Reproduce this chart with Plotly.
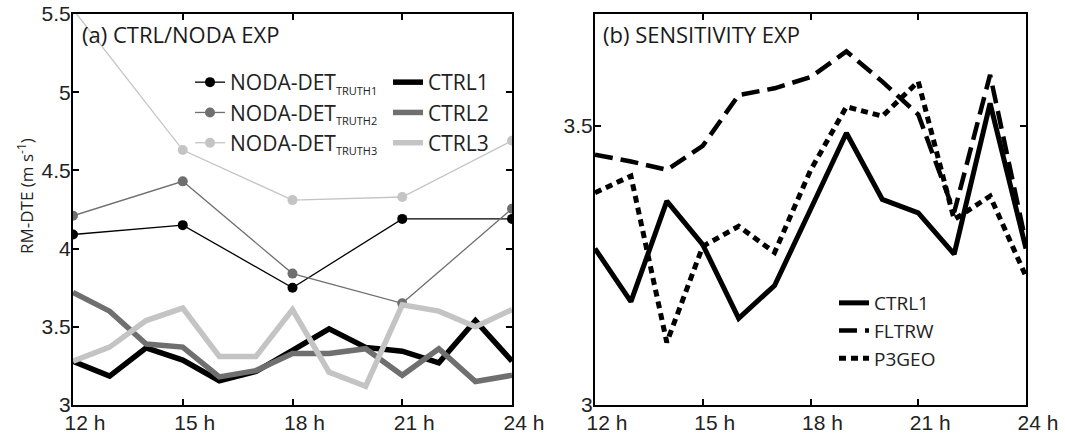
import plotly.graph_objects as go

hours = [12, 13, 14, 15, 16, 17, 18, 19, 20, 21, 22, 23, 24]
hours3 = [12, 15, 18, 21, 24]

noda_truth1 = [4.09, 4.15, 3.75, 4.19, 4.19]
noda_truth2 = [4.21, 4.43, 3.84, 3.65, 4.255]
noda_truth3 = [5.53, 4.63, 4.31, 4.33, 4.69]

ctrl1 = [3.28, 3.185, 3.365, 3.287, 3.155, 3.214, 3.35, 3.487, 3.368, 3.344, 3.27, 3.54, 3.28]
ctrl2 = [3.72, 3.60, 3.39, 3.37, 3.18, 3.22, 3.33, 3.33, 3.36, 3.19, 3.36, 3.15, 3.19]
ctrl3 = [3.28, 3.37, 3.54, 3.62, 3.31, 3.31, 3.61, 3.21, 3.12, 3.64, 3.60, 3.50, 3.61]

fltrw = [3.448, 3.436, 3.421, 3.464, 3.555, 3.567, 3.587, 3.633, 3.579, 3.52, 3.345, 3.591, 3.29]
p3geo = [3.38, 3.41, 3.112, 3.284, 3.32, 3.273, 3.42, 3.534, 3.517, 3.579, 3.332, 3.374, 3.23]

xtick_vals = [12, 15, 18, 21, 24]
xtick_text = ["12 h", "15 h", "18 h", "21 h", "24 h"]
ytick_left = [3, 3.5, 4, 4.5, 5, 5.5]
ytick_left_text = ["3", "3.5", "4", "4.5", "5", "5.5"]
ytick_right = [3, 3.5]
ytick_right_text = ["3", "3.5"]

BLACK = "#000000"
GREY = "#6f6f6f"
LIGHT = "#c4c4c4"

SUBF = "<span style='font-size:11px'>%s</span>"

fig = go.Figure()

# left panel NODA lines
for name, ys, col in [("TRUTH1", noda_truth1, BLACK), ("TRUTH2", noda_truth2, GREY), ("TRUTH3", noda_truth3, LIGHT)]:
    fig.add_trace(go.Scatter(
        x=hours3, y=ys, mode="lines+markers",
        name="NODA-DET<sub>" + (SUBF % name) + "</sub>",
        line=dict(color=col, width=1.3), marker=dict(color=col, size=10),
        xaxis="x", yaxis="y", legend="legend", cliponaxis=True))

for name, ys, col in [("CTRL1", ctrl1, BLACK), ("CTRL2", ctrl2, GREY), ("CTRL3", ctrl3, LIGHT)]:
    fig.add_trace(go.Scatter(
        x=hours, y=ys, mode="lines", name=name,
        line=dict(color=col, width=5.5),
        xaxis="x", yaxis="y", legend="legend2"))

# right panel
fig.add_trace(go.Scatter(x=hours, y=ctrl1, mode="lines", name="CTRL1",
                         line=dict(color=BLACK, width=5), xaxis="x2", yaxis="y2", legend="legend3"))
fig.add_trace(go.Scatter(x=hours, y=fltrw, mode="lines", name="FLTRW",
                         line=dict(color=BLACK, width=4.5, dash="18px,8px"), xaxis="x2", yaxis="y2", legend="legend3"))
fig.add_trace(go.Scatter(x=hours, y=p3geo, mode="lines", name="P3GEO",
                         line=dict(color=BLACK, width=5, dash="7px,5px"), xaxis="x2", yaxis="y2", legend="legend3"))

W, H = 1065, 435
ML, MR, MT, MB = 73, 39, 14, 30
PW = W - ML - MR
PH = H - MT - MB

def px(xp):
    return (xp - ML) / PW

def py(yp):
    return (H - MB - yp) / PH

TICKFONT = dict(family="Liberation Sans, Arial, sans-serif", size=21, color="#222222")
TXTFONT = "Open Sans, sans-serif"

axis_common = dict(showline=True, linecolor="black", linewidth=2, mirror="ticks",
                   ticks="inside", ticklen=6, tickwidth=1.5, tickcolor="black",
                   showgrid=False, zeroline=False, tickfont=TICKFONT, automargin=False)

xaxis_extra = dict(ticklabelstandoff=-2, ticklabelshift=12)
yaxis_extra = dict(ticklabelstandoff=-4)

fig.update_layout(
    width=W, height=H,
    margin=dict(l=ML, r=MR, t=MT, b=MB),
    paper_bgcolor="white", plot_bgcolor="white",
    xaxis=dict(domain=[0, px(512)], range=[12, 24], tickvals=xtick_vals, ticktext=xtick_text, anchor="y",
               **axis_common, **xaxis_extra),
    yaxis=dict(domain=[0, 1], range=[3, 5.5], tickvals=ytick_left, ticktext=ytick_left_text, anchor="x",
               **axis_common, **yaxis_extra),
    xaxis2=dict(domain=[px(595), 1], range=[12, 24], tickvals=xtick_vals, ticktext=xtick_text, anchor="y2",
                **axis_common, **xaxis_extra),
    yaxis2=dict(domain=[0, 1], range=[3, 3.7], tickvals=ytick_right, ticktext=ytick_right_text, anchor="x2",
                **axis_common, **yaxis_extra),
    legend=dict(x=px(190), y=py(62), xanchor="left", yanchor="top", bgcolor="rgba(0,0,0,0)",
                font=dict(family=TXTFONT, size=21, color="#222222"), tracegroupgap=0, itemwidth=30),
    legend2=dict(x=px(388), y=py(62), xanchor="left", yanchor="top", bgcolor="rgba(0,0,0,0)",
                 font=dict(family=TXTFONT, size=21, color="#222222"), tracegroupgap=0, itemwidth=30),
    legend3=dict(x=px(834), y=py(284), xanchor="left", yanchor="top", bgcolor="rgba(0,0,0,0)",
                 font=dict(family=TXTFONT, size=19, color="#222222"), tracegroupgap=0, itemwidth=30),
    annotations=[
        dict(text="(a) CTRL/NODA EXP", xref="paper", yref="paper", x=px(80), y=py(34),
             xanchor="left", yanchor="middle", showarrow=False,
             font=dict(family=TXTFONT, size=22, color="#1a1a1a")),
        dict(text="(b) SENSITIVITY EXP", xref="paper", yref="paper", x=px(601), y=py(34),
             xanchor="left", yanchor="middle", showarrow=False,
             font=dict(family=TXTFONT, size=22, color="#1a1a1a")),
        dict(text="RM-DTE (m s<sup>-1</sup>)", xref="paper", yref="paper", x=px(25), y=py(196),
             xanchor="center", yanchor="middle", showarrow=False, textangle=-90,
             font=dict(family=TXTFONT, size=17, color="#222222")),
    ],
)

fig.write_html("out.html")
